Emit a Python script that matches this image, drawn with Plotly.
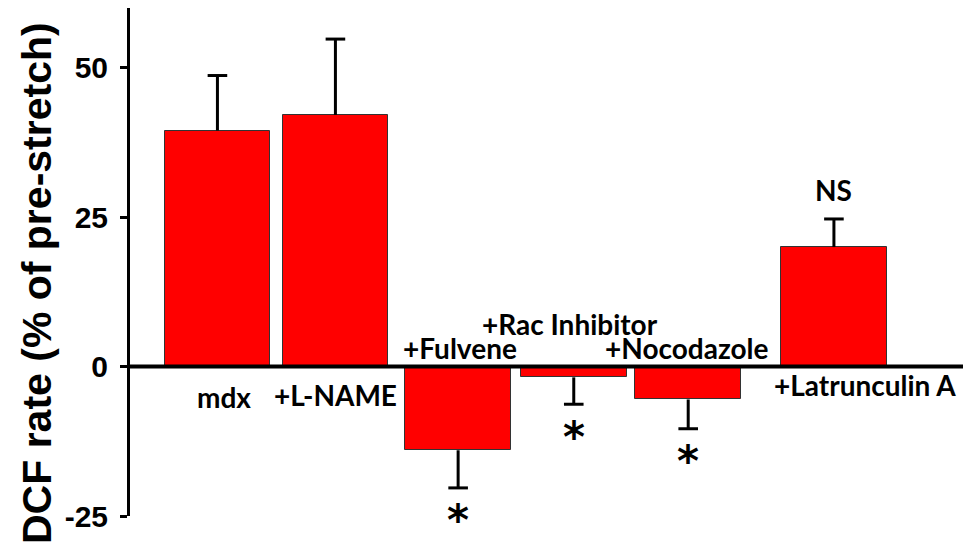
import plotly.graph_objects as go

# DCF production rate after stretch, per treatment
categories = ["mdx", "+L-NAME", "+Fulvene", "+Rac Inhibitor", "+Nocodazole", "+Latrunculin A"]
dcf_rate = [39.5, 42.1, -14.0, -1.8, -5.5, 20.0]
sem = [9.2, 12.7, 6.3, 4.5, 4.9, 4.7]
significance = ["", "", "*", "*", "*", "NS"]
y_ticks = [-25, 0, 25, 50]

# horizontal slot of each bar on a numeric axis (last bar set apart)
slots = [0, 1.0, 2.04, 3.02, 3.99, 5.225]
# label offsets (px) relative to the slot / zero line
label_dx = [7, 0, 2, -4, -1, 31]
label_dy = [-30, -28, 19, 43, 19, -18]

BAR_RED = "#FF0000"
LABEL_FONT = dict(family="Lato", size=28, color="black", weight="bold")

fig = go.Figure()

fig.add_trace(go.Bar(
    x=slots, y=dcf_rate, width=0.894,
    marker=dict(color=BAR_RED, line=dict(color="#333333", width=1)),
    showlegend=False, hoverinfo="skip",
))

# one-sided error bars: stem plus a cap at the far end
stem_x, stem_y, cap_x, cap_y = [], [], [], []
for s, v, e in zip(slots, dcf_rate, sem):
    end = v + e if v >= 0 else v - e
    stem_x += [s, s, None]
    stem_y += [v, end, None]
    cap_x.append(s)
    cap_y.append(end)

fig.add_trace(go.Scatter(
    x=stem_x, y=stem_y, mode="lines",
    line=dict(color="black", width=3),
    showlegend=False, hoverinfo="skip",
))
fig.add_trace(go.Scatter(
    x=cap_x, y=cap_y, mode="markers",
    marker=dict(symbol="line-ew", size=14, line=dict(color="black", width=3)),
    showlegend=False, hoverinfo="skip",
))

annotations = []
for s, name, dx, dy in zip(slots, categories, label_dx, label_dy):
    annotations.append(dict(
        x=s, y=0, xref="x", yref="y", text=name, showarrow=False,
        xshift=dx, yshift=dy, xanchor="center", yanchor="middle",
        font=LABEL_FONT,
    ))

for s, v, e, mark in zip(slots, dcf_rate, sem, significance):
    if not mark:
        continue
    end = v + e if v >= 0 else v - e
    if mark == "*":
        annotations.append(dict(
            x=s, y=end, xref="x", yref="y", text=mark, showarrow=False,
            yshift=-33, xanchor="center", yanchor="middle",
            font=dict(family="DejaVu Sans", size=42, color="black", weight="bold"),
        ))
    else:
        annotations.append(dict(
            x=s, y=end, xref="x", yref="y", text=mark, showarrow=False,
            yshift=29, xanchor="center", yanchor="middle",
            font=dict(family="Lato", size=28, color="black", weight="bold"),
        ))

# vertical axis title
annotations.append(dict(
    x=-0.1116, y=0.4587, xref="paper", yref="paper",
    text="DCF rate (% of pre-stretch)", textangle=-90, showarrow=False,
    xanchor="center", yanchor="middle",
    font=dict(family="Liberation Sans", size=41, color="black", weight="bold"),
))

fig.update_layout(
    width=963, height=548, autosize=False,
    margin=dict(l=130, r=0, t=8, b=32),
    paper_bgcolor="white", plot_bgcolor="white",
    bargap=0, showlegend=False,
    annotations=annotations,
    shapes=[dict(
        type="line", xref="paper", yref="y", x0=0, x1=1, y0=0, y1=0,
        line=dict(color="black", width=4), layer="above",
    )],
)

fig.update_xaxes(
    range=[-0.741, 6.319], showgrid=False, zeroline=False,
    showline=False, showticklabels=False, ticks="",
)
fig.update_yaxes(
    range=[-25, 60], tickvals=y_ticks, ticktext=[str(t) for t in y_ticks],
    showgrid=False, zeroline=False,
    showline=True, linecolor="black", linewidth=3,
    ticks="outside", ticklen=7, tickwidth=3, tickcolor="black",
    ticklabelstandoff=6,
    tickfont=dict(family="Liberation Sans", size=30, color="black", weight="bold"),
)

fig.write_html("out.html")
